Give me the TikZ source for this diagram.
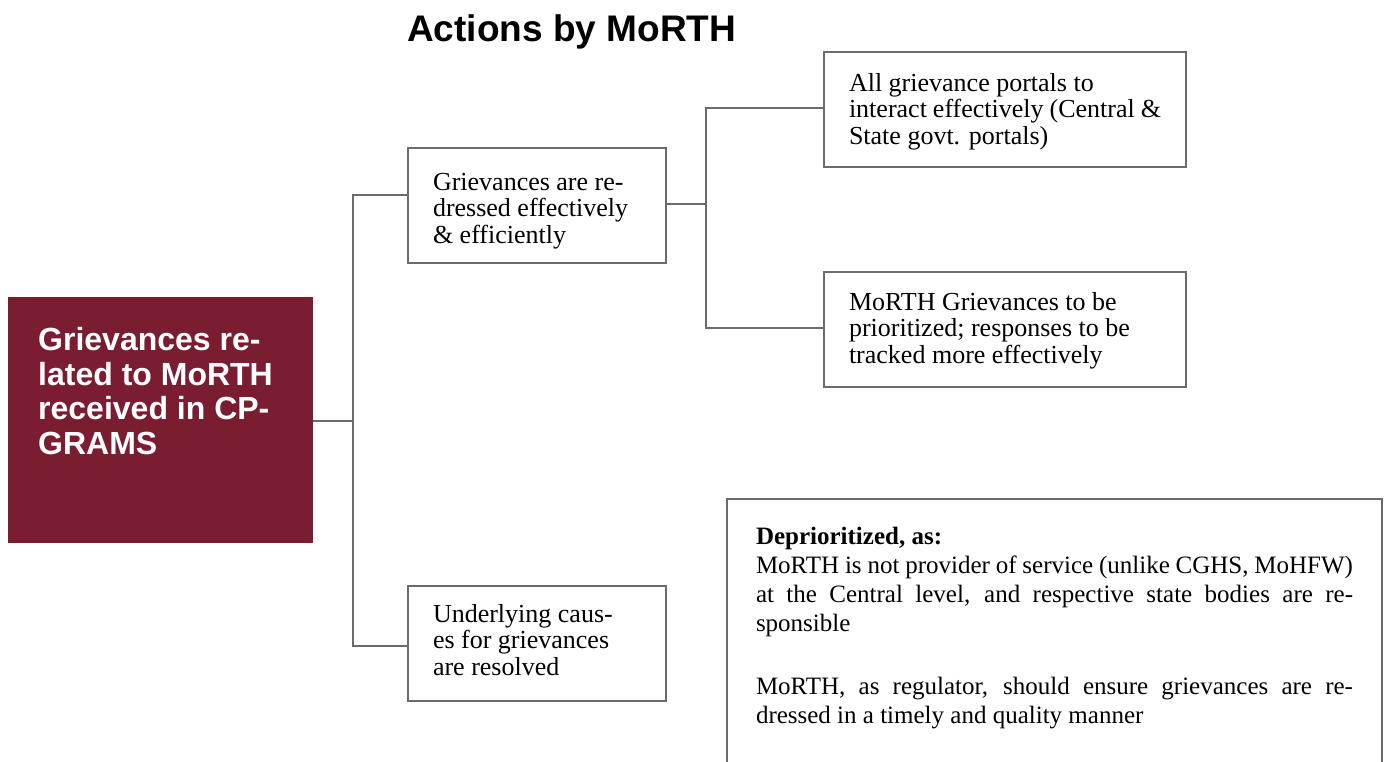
\documentclass[tikz,border=0pt]{standalone}
\usepackage{fontspec}
\setmainfont{Liberation Serif}
\setsansfont{Liberation Sans}
\usepackage{xcolor}
\usepackage{tikz}
\usetikzlibrary{positioning}

\definecolor{linegray}{HTML}{6B6B6B}
\definecolor{morthred}{HTML}{7B1D31}

\begin{document}
\begin{tikzpicture}[x=1pt, y=1pt,
    link/.style={draw=linegray, line width=2pt},
    leaf/.style={draw=linegray, line width=2pt, fill=white, rectangle, align=flush left,
        inner xsep=25pt, minimum height=115pt,
        execute at begin node={\rule{0pt}{#1}}, execute at end node=\strut,
        font=\fontsize{26}{26.5}\selectfont},
    leaf/.default=23pt,
    rootbox/.style={fill=morthred, text=white, rectangle, anchor=north west,
        inner xsep=30pt, inner ysep=30pt, font=\sffamily\bfseries\fontsize{32}{34.7}\selectfont},
    notebox/.style={draw=linegray, line width=2pt, fill=white, rectangle, anchor=north west,
        inner xsep=29pt, inner ysep=28pt, font=\fontsize{25}{29.2}\selectfont}]

    \useasboundingbox (0,0) rectangle (1386,-762);

    % Title
    \node[anchor=base west, inner sep=0pt, font=\sffamily\bfseries\fontsize{37}{40}\selectfont]
        (title) at (407,-42) {Actions by MoRTH};

    % Root node
    \node[rootbox] (root) at (8,-297)
        {\parbox[t][186pt][t]{245pt}{\raggedright Grievances re-\\lated to MoRTH\\received in CP-\\GRAMS}};

    % First level
    \node[leaf=30pt, text width=208pt] (redress) at (537,-205.5)
        {Grievances are re-\\dressed effectively\\\& efficiently};
    \node[leaf=18.5pt, text width=208pt] (causes) at (537,-643.5)
        {Underlying caus-\\es for grievances\\are resolved};

    % Second level
    \node[leaf=24.5pt, text width=312pt] (portals) at (1005,-109.5)
        {All grievance portals to\\interact effectively (Central~\&\\State govt. portals)};
    \node[leaf=22.5pt, text width=312pt, below=103pt of portals] (tracked)
        {MoRTH Grievances to be\\prioritized; responses to be\\tracked more effectively};

    % Deprioritized note
    \node[notebox] (note) at (726,-498)
        {\parbox[t][270pt][t]{597pt}{\textbf{Deprioritized, as:}\par
        MoRTH is not provider of service (unlike CGHS, MoHFW)\linebreak
        at the Central level, and respective state bodies are re-\linebreak
        sponsible\par\vspace{33pt}
        MoRTH, as regulator, should ensure grievances are re-\linebreak
        dressed in a timely and quality manner}};

    % Forks
    \coordinate (fork1) at (353,-421);
    \coordinate (fork2) at (706,-204);

    % Connections: root to first level
    \draw[link] (root.east |- fork1) -- (fork1);
    \draw[link] ([yshift=10.5pt]redress.west) -| (fork1) |- ([yshift=-2.5pt]causes.west);

    % Connections: first level to second level
    \draw[link] (redress.east |- fork2) -- (fork2);
    \draw[link] ([yshift=1.5pt]portals.west) -| (fork2) |- ([yshift=1.5pt]tracked.west);

\end{tikzpicture}
\end{document}
